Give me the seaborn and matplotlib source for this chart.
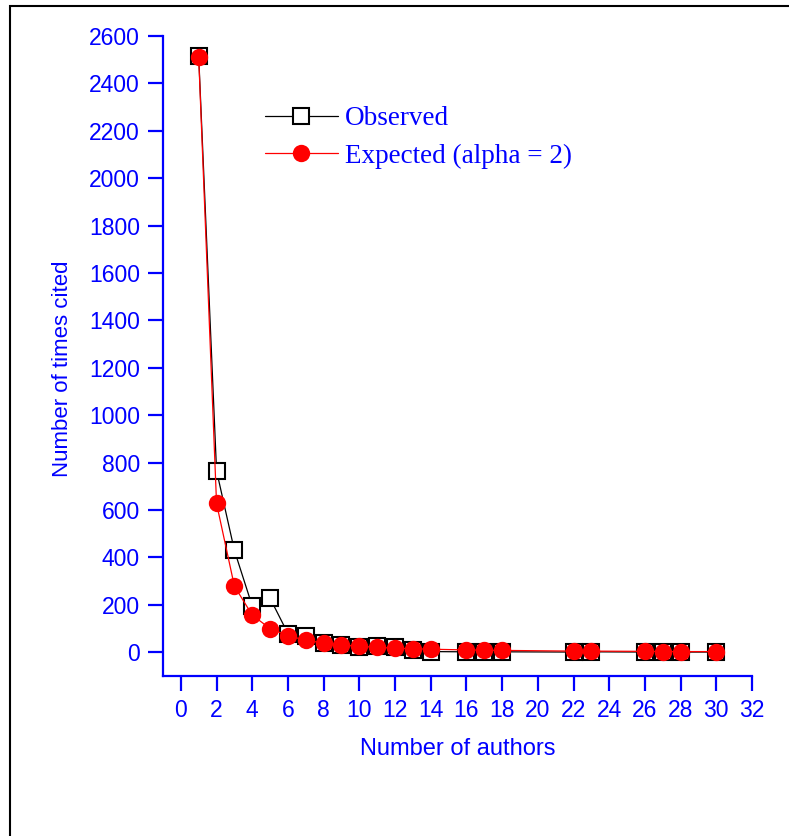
import matplotlib
matplotlib.use("Agg")
import matplotlib.pyplot as plt
import seaborn as sns
import pandas as pd
from matplotlib.patches import Rectangle

# Data
authors = [1, 2, 3, 4, 5, 6, 7, 8, 9, 10, 11, 12, 13, 14, 16, 17, 18, 22, 23, 26, 27, 28, 30]
observed = [2515, 766, 430, 195, 228, 79, 69, 41, 29, 24, 26, 24, 8, 3, 2, 2, 2, 1, 2, 1, 1, 1, 1]
expected = [2510, 628, 279, 157, 100, 70, 51, 39, 31, 25, 21, 17, 15, 13, 10, 9, 8, 5, 5, 4, 3, 3, 3]

x_ticks = list(range(0, 33, 2))
y_ticks = list(range(0, 2601, 200))

df = pd.DataFrame({"authors": authors, "observed": observed, "expected": expected})

sns.set_style("ticks")
plt.rcParams["font.family"] = ["Liberation Sans", "DejaVu Sans"]

BLUE = "#0000ff"

fig = plt.figure(figsize=(7.89, 8.36), dpi=100)
ax = fig.add_axes([163 / 789, 1 - 676 / 836, (752 - 163) / 789, (676 - 36) / 836])

sns.lineplot(data=df, x="authors", y="observed", ax=ax, color="black", lw=0.9,
             marker="s", markersize=11, markerfacecolor="white",
             markeredgecolor="black", markeredgewidth=1.5, label="Observed", zorder=2)
sns.lineplot(data=df, x="authors", y="expected", ax=ax, color="red", lw=0.9,
             marker="o", markersize=12.5, markerfacecolor="red",
             markeredgecolor="red", markeredgewidth=0, label="Expected (alpha = 2)", zorder=3)

ax.set_xlim(-1, 32)
ax.set_ylim(-100, 2600)
ax.set_xticks(x_ticks)
ax.set_yticks(y_ticks)
ax.set_xticklabels([str(v) for v in x_ticks])
ax.set_yticklabels([str(v) for v in y_ticks])

for s in ["top", "right"]:
    ax.spines[s].set_visible(False)
for s in ["left", "bottom"]:
    ax.spines[s].set_color(BLUE)
    ax.spines[s].set_linewidth(1.6)

ax.tick_params(axis="both", colors=BLUE, labelcolor=BLUE, labelsize=16.5,
               length=10.5, width=1.6, direction="out", pad=6)

ax.set_xlabel("Number of authors", color=BLUE, fontsize=17)
ax.set_ylabel("Number of times cited", color=BLUE, fontsize=16)
ax.xaxis.set_label_coords(0.5, -0.097)
ax.yaxis.set_label_coords(-0.153, 0.48)

leg = ax.legend(loc="upper left", bbox_to_anchor=(0.173, 0.89), frameon=False,
                prop={"family": "Liberation Serif", "size": 19.5},
                handlelength=2.7, handletextpad=0.25, labelspacing=0.45,
                borderpad=0, borderaxespad=0)
for t in leg.get_texts():
    t.set_color(BLUE)
for h in leg.get_lines():
    h.set_linewidth(0.9)

# outer frame
fig.patches.append(Rectangle((10 / 789, -0.1), 1.2, 1 - 6 / 836 + 0.1,
                             transform=fig.transFigure, fill=False,
                             edgecolor="black", linewidth=1.5, zorder=0))

fig.savefig("out.png", dpi=100)
